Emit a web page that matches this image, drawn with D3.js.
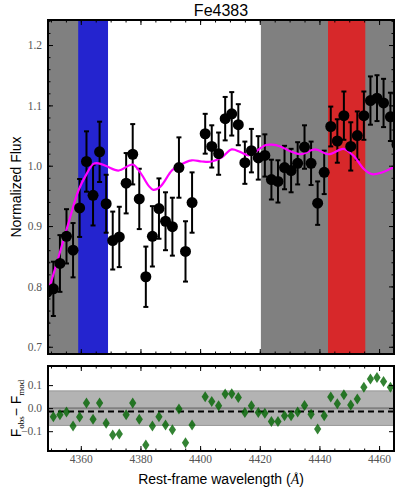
<!doctype html>
<html>
  <head>
    <script src="https://d3js.org/d3.v7.min.js"></script>
    <style>
      body { margin: 0; background: #fff; }
    </style>
  </head>
  <body>
    <script>
    // observed spectrum (rest-frame wavelength, normalized flux, error)
    var wave = [4348.6, 4350.8, 4353.0, 4355.2, 4357.4, 4359.6, 4361.9, 4364.1, 4366.3, 4368.5,
                4370.7, 4372.9, 4375.2, 4377.4, 4379.6, 4381.8, 4384.0, 4386.2, 4388.4, 4390.7,
                4392.9, 4395.1, 4397.3, 4401.7, 4403.9, 4406.2, 4408.4, 4410.6, 4412.8, 4415.0,
                4417.2, 4419.5, 4421.7, 4423.9, 4426.1, 4428.3, 4430.5, 4432.7, 4435.0, 4437.2,
                4439.4, 4441.6, 4443.8, 4446.0, 4448.2, 4450.5, 4452.7, 4454.9, 4457.1, 4459.3,
                4461.5, 4463.8, 4466.0];
    var flux = [0.790, 0.796, 0.838, 0.883, 0.860, 0.930, 1.007, 0.951, 1.023, 0.937,
                0.876, 0.882, 0.971, 1.019, 0.945, 0.816, 0.883, 0.929, 0.908, 0.899,
                0.997, 0.858, 0.939, 1.053, 1.032, 1.020, 1.078, 1.086, 1.068, 1.005,
                1.025, 1.013, 1.017, 0.977, 0.974, 0.997, 0.992, 1.004, 1.031, 1.004,
                0.938, 0.989, 1.065, 1.041, 1.083, 1.032, 1.050, 1.083, 1.108, 1.112,
                1.104, 1.081, 1.035];
    var fluxErr = [0.050, 0.045, 0.047, 0.045, 0.045, 0.048, 0.050, 0.050, 0.050, 0.048,
                   0.048, 0.050, 0.050, 0.050, 0.050, 0.050, 0.050, 0.050, 0.048, 0.048,
                   0.050, 0.050, 0.050, 0.033, 0.035, 0.035, 0.036, 0.036, 0.034, 0.035,
                   0.036, 0.036, 0.035, 0.033, 0.035, 0.036, 0.036, 0.035, 0.036, 0.036,
                   0.036, 0.036, 0.033, 0.036, 0.040, 0.040, 0.040, 0.040, 0.040, 0.038,
                   0.040, 0.040, 0.040];

    // best-fit model
    var modelWave = [4349.0, 4352.5, 4355.8, 4359.2, 4362.0, 4364.2, 4365.9, 4368.7, 4372.6, 4377.4,
                     4379.9, 4382.7, 4384.3, 4386.6, 4390.5, 4392.7, 4397.2, 4400.6, 4403.9, 4407.3,
                     4410.6, 4413.4, 4416.2, 4418.5, 4421.8, 4424.1, 4426.9, 4430.2, 4433.6, 4438.6,
                     4443.1, 4448.1, 4451.5, 4454.8, 4457.6, 4460.4, 4465.1];
    var modelFlux = [0.790, 0.848, 0.904, 0.959, 0.987, 1.003, 1.004, 0.999, 0.992, 1.002,
                     0.989, 0.967, 0.960, 0.965, 0.992, 1.000, 1.009, 1.007, 1.007, 1.014,
                     1.027, 1.023, 1.017, 1.023, 1.034, 1.035, 1.032, 1.024, 1.019, 1.027,
                     1.019, 1.028, 1.016, 0.995, 0.986, 0.988, 0.998];

    // residuals F_obs - F_mod
    var resWave = [4350.8, 4353.0, 4355.2, 4357.4, 4359.6, 4361.9, 4364.1, 4366.3, 4368.5, 4370.7,
                   4372.9, 4375.2, 4377.4, 4379.6, 4381.8, 4384.0, 4386.2, 4388.4, 4390.7, 4392.9,
                   4395.1, 4397.3, 4401.7, 4403.9, 4406.2, 4408.4, 4410.6, 4412.8, 4415.0, 4417.2,
                   4419.5, 4421.7, 4423.9, 4426.1, 4428.3, 4430.5, 4432.7, 4435.0, 4437.2, 4439.4,
                   4441.6, 4443.8, 4446.0, 4448.2, 4450.5, 4452.7, 4454.9, 4457.1, 4459.3, 4461.5,
                   4463.8];
    var resid = [-0.037, -0.029, -0.017, -0.077, -0.038, 0.022, -0.048, 0.022, -0.065, -0.116,
                 -0.112, -0.029, 0.022, -0.048, -0.160, -0.077, -0.037, -0.073, -0.094, -0.004,
                 -0.150, -0.073, 0.050, 0.029, 0.010, 0.061, 0.062, 0.046, -0.019, 0.010,
                 -0.019, -0.022, -0.058, -0.058, -0.033, -0.033, -0.017, 0.011, -0.026, -0.090,
                 -0.033, 0.048, 0.019, 0.058, 0.014, 0.040, 0.091, 0.127, 0.133, 0.116,
                 0.091];
    var residBand = 0.075;
    var residMean = -0.015;

    // Fe4383 Lick passbands
    var blueBand = [4359.125, 4370.375];
    var indexBand = [4369.125, 4420.375];
    var redBand = [4442.875, 4455.375];

    var xTicks = [4360, 4380, 4400, 4420, 4440, 4460];
    var yTicks = [0.7, 0.8, 0.9, 1.0, 1.1, 1.2];
    var rTicks = [-0.1, 0.0, 0.1];

    var width = 399;
    var height = 487;

    var left = 48, right = 394;
    var main = {top: 20, bottom: 354};
    var low = {top: 366, bottom: 451};

    var svg = d3.select("body")
              .append("svg")
              .attr("width", width)
              .attr("height", height)
              .style("font-family", "'Liberation Sans', Arial, sans-serif");

    var x = d3.scaleLinear().domain([4349, 4465]).range([left, right]);
    var y = d3.scaleLinear().domain([0.688, 1.2415]).range([main.bottom, main.top]);
    var yr = d3.scaleLinear().domain([-0.186, 0.183]).range([low.bottom, low.top]);

    svg.append("defs").append("clipPath").attr("id", "clipMain")
      .append("rect")
      .attr("x", left).attr("y", main.top)
      .attr("width", right - left).attr("height", main.bottom - main.top);
    svg.select("defs").append("clipPath").attr("id", "clipLow")
      .append("rect")
      .attr("x", left).attr("y", low.top)
      .attr("width", right - left).attr("height", low.bottom - low.top);

    // ---- main panel ----
    var gm = svg.append("g").attr("clip-path", "url(#clipMain)");

    gm.append("rect")
      .attr("x", left).attr("y", main.top)
      .attr("width", right - left).attr("height", main.bottom - main.top)
      .attr("fill", "#808080");

    gm.append("rect")
      .attr("x", x(blueBand[0])).attr("y", main.top)
      .attr("width", x(blueBand[1]) - x(blueBand[0])).attr("height", main.bottom - main.top)
      .attr("fill", "#2424cf");

    gm.append("rect")
      .attr("x", x(redBand[0])).attr("y", main.top)
      .attr("width", x(redBand[1]) - x(redBand[0])).attr("height", main.bottom - main.top)
      .attr("fill", "#d7282a");

    gm.append("rect")
      .attr("x", x(indexBand[0])).attr("y", main.top)
      .attr("width", x(indexBand[1]) - x(indexBand[0])).attr("height", main.bottom - main.top)
      .attr("fill", "#ffffff");

    var pts = wave.map(function(w, i) {
      return {w: w, f: flux[i], e: fluxErr[i]};
    });

    // error bars
    var eb = gm.selectAll(".err")
      .data(pts)
      .enter()
      .append("g")
      .attr("class", "err")
      .attr("stroke", "#000")
      .attr("stroke-width", 2);

    eb.append("line")
      .attr("x1", function(d) { return x(d.w); })
      .attr("x2", function(d) { return x(d.w); })
      .attr("y1", function(d) { return y(d.f - d.e); })
      .attr("y2", function(d) { return y(d.f + d.e); });
    eb.append("line")
      .attr("x1", function(d) { return x(d.w) - 2.5; })
      .attr("x2", function(d) { return x(d.w) + 2.5; })
      .attr("y1", function(d) { return y(d.f + d.e); })
      .attr("y2", function(d) { return y(d.f + d.e); });
    eb.append("line")
      .attr("x1", function(d) { return x(d.w) - 2.5; })
      .attr("x2", function(d) { return x(d.w) + 2.5; })
      .attr("y1", function(d) { return y(d.f - d.e); })
      .attr("y2", function(d) { return y(d.f - d.e); });

    // model line
    var line = d3.line()
      .x(function(d, i) { return x(modelWave[i]); })
      .y(function(d) { return y(d); })
      .curve(d3.curveCatmullRom);

    gm.append("path")
      .datum(modelFlux)
      .attr("fill", "none")
      .attr("stroke", "#ff00ff")
      .attr("stroke-width", 2.2)
      .attr("d", line);

    gm.selectAll(".pt")
      .data(pts)
      .enter()
      .append("circle")
      .attr("class", "pt")
      .attr("cx", function(d) { return x(d.w); })
      .attr("cy", function(d) { return y(d.f); })
      .attr("r", 5.5)
      .attr("fill", "#000");

    // ---- residual panel ----
    var gl = svg.append("g").attr("clip-path", "url(#clipLow)");

    gl.append("rect")
      .attr("x", left).attr("y", yr(residBand))
      .attr("width", right - left).attr("height", yr(-residBand) - yr(residBand))
      .attr("fill", "#b3b3b3")
      .attr("stroke", "#999")
      .attr("stroke-width", 1);

    gl.append("line")
      .attr("x1", left).attr("x2", right)
      .attr("y1", yr(0)).attr("y2", yr(0))
      .attr("stroke", "#808080")
      .attr("stroke-width", 2);

    gl.append("line")
      .attr("x1", left).attr("x2", right)
      .attr("y1", yr(residMean)).attr("y2", yr(residMean))
      .attr("stroke", "#000")
      .attr("stroke-width", 2)
      .attr("stroke-dasharray", "6,4");

    gl.selectAll(".res")
      .data(resid)
      .enter()
      .append("path")
      .attr("class", "res")
      .attr("d", "M0,-5.5L3.6,0L0,5.5L-3.6,0Z")
      .attr("transform", function(d, i) {
        return "translate(" + x(resWave[i]) + "," + yr(d) + ")";
      })
      .attr("fill", "#006400")
      .attr("fill-opacity", 0.8);

    // ---- axes ----
    function minor(lo, hi, step) {
      var out = [];
      for (var v = lo; v <= hi + 1e-9; v += step) out.push(+v.toFixed(3));
      return out;
    }
    var xMinor = minor(4350, 4465, 5);
    var yMinor = minor(0.70, 1.24, 0.02);

    function styleAxis(g, labels) {
      g.select(".domain").remove();
      g.selectAll("line").attr("stroke", "#000").attr("stroke-width", 1);
      g.selectAll("text")
        .attr("fill", labels ? "#555" : "none")
        .style("font-family", "'Liberation Serif', 'DejaVu Serif', serif")
        .style("font-size", "11.5px");
    }

    function frame(top, bottom, yScale, yMaj, yMin, showX) {
      svg.append("g").attr("transform", "translate(0," + bottom + ")")
        .call(d3.axisBottom(x).tickValues(xTicks).tickSize(-5).tickPadding(4)
          .tickFormat(showX ? d3.format("d") : ""))
        .call(styleAxis, showX);
      svg.append("g").attr("transform", "translate(0," + bottom + ")")
        .call(d3.axisBottom(x).tickValues(xMinor).tickSize(-2.5).tickFormat(""))
        .call(styleAxis, false);
      svg.append("g").attr("transform", "translate(0," + top + ")")
        .call(d3.axisTop(x).tickValues(xTicks).tickSize(-5).tickFormat(""))
        .call(styleAxis, false);
      svg.append("g").attr("transform", "translate(0," + top + ")")
        .call(d3.axisTop(x).tickValues(xMinor).tickSize(-2.5).tickFormat(""))
        .call(styleAxis, false);
      svg.append("g").attr("transform", "translate(" + left + ",0)")
        .call(d3.axisLeft(yScale).tickValues(yMaj).tickSize(-5).tickPadding(6)
          .tickFormat(function(d) { return d.toFixed(1).replace("-", "\u2212"); }))
        .call(styleAxis, true);
      svg.append("g").attr("transform", "translate(" + right + ",0)")
        .call(d3.axisRight(yScale).tickValues(yMaj).tickSize(-5).tickFormat(""))
        .call(styleAxis, false);
      if (yMin) {
        svg.append("g").attr("transform", "translate(" + left + ",0)")
          .call(d3.axisLeft(yScale).tickValues(yMin).tickSize(-2.5).tickFormat(""))
          .call(styleAxis, false);
        svg.append("g").attr("transform", "translate(" + right + ",0)")
          .call(d3.axisRight(yScale).tickValues(yMin).tickSize(-2.5).tickFormat(""))
          .call(styleAxis, false);
      }
      svg.append("rect")
        .attr("x", left).attr("y", top)
        .attr("width", right - left).attr("height", bottom - top)
        .attr("fill", "none")
        .attr("stroke", "#000")
        .attr("stroke-width", 2);
    }

    frame(main.top, main.bottom, y, yTicks, yMinor, false);
    frame(low.top, low.bottom, yr, rTicks, null, true);

    // ---- labels ----
    svg.append("text")
      .attr("x", (left + right) / 2)
      .attr("y", 16)
      .attr("text-anchor", "middle")
      .style("font-size", "16px")
      .text("Fe4383");

    svg.append("text")
      .attr("transform", "translate(21," + (main.top + main.bottom) / 2 + ") rotate(-90)")
      .attr("text-anchor", "middle")
      .style("font-size", "14px")
      .text("Normalized Flux");

    var rl = svg.append("text")
      .attr("transform", "translate(21," + (low.top + low.bottom) / 2 + ") rotate(-90)")
      .attr("text-anchor", "middle")
      .style("font-size", "14px");
    rl.append("tspan").text("F");
    rl.append("tspan").attr("dy", 3).style("font-size", "9px")
      .style("font-family", "'Liberation Serif', serif").text("obs");
    rl.append("tspan").attr("dy", -3).text("\u2212 F");
    rl.append("tspan").attr("dy", 3).style("font-size", "9px")
      .style("font-family", "'Liberation Serif', serif").text("mod");

    var xl = svg.append("text")
      .attr("x", (left + right) / 2)
      .attr("y", 484)
      .attr("text-anchor", "middle")
      .style("font-size", "14px");
    xl.append("tspan").text("Rest-frame wavelength (");
    xl.append("tspan").style("font-family", "'Liberation Serif', serif")
      .style("font-style", "italic").text("\u00c5");
    xl.append("tspan").text(")");
    </script>
  </body>
</html>
